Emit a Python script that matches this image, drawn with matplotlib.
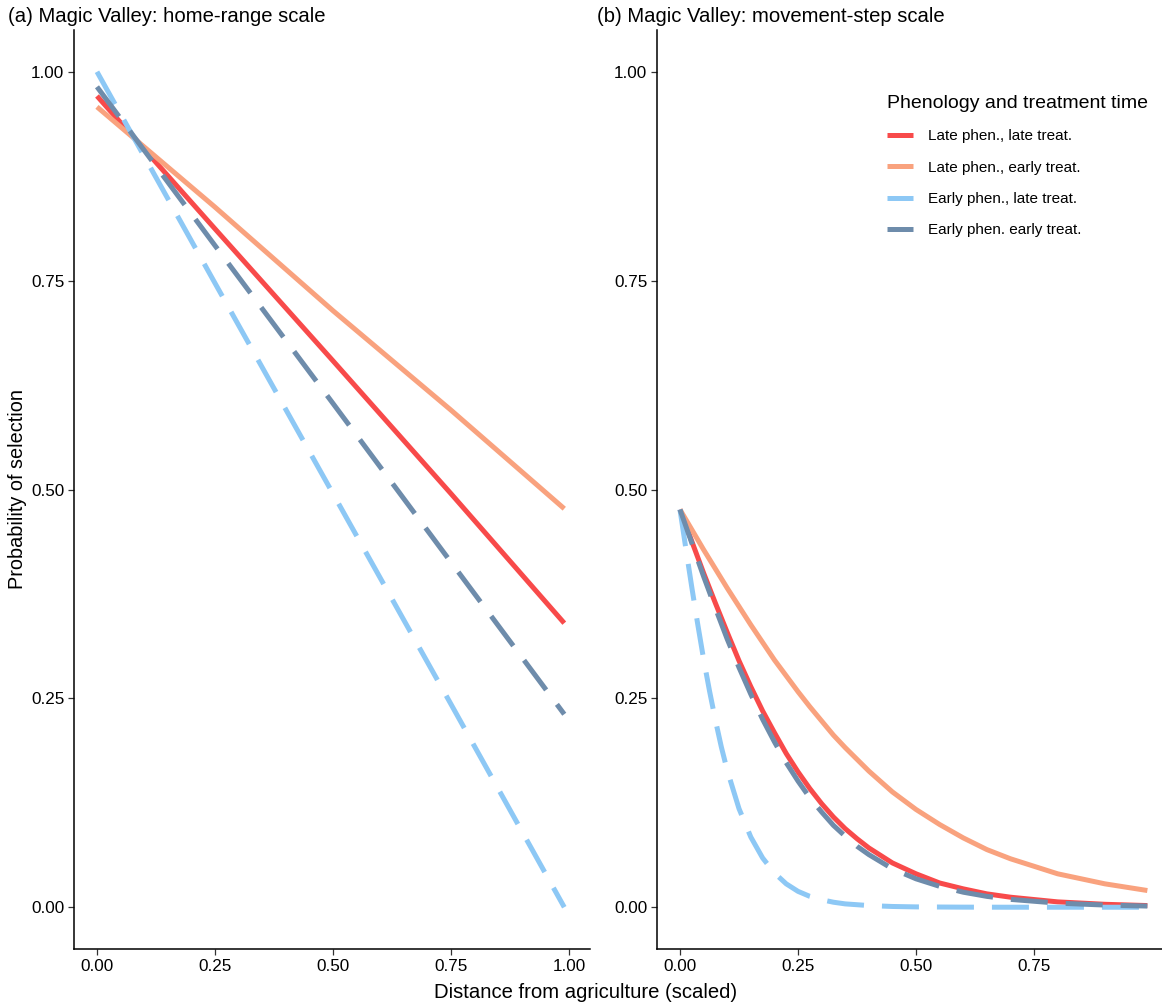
import numpy as np
import matplotlib.pyplot as plt
from matplotlib.lines import Line2D

plt.rcParams['font.family'] = ['Liberation Sans', 'DejaVu Sans']

# group labels and colours
groups = ['Late phen., late treat.', 'Late phen., early treat.',
          'Early phen., late treat.', 'Early phen. early treat.']
colors = ['#F84A4A', '#F9A27E', '#8DC8F5', '#6E8CAB']
dashed = [False, False, True, True]

# (a) home-range scale
hr_x = [0.0, 0.25, 0.5, 0.75, 0.99]
hr_late_late = [0.971, 0.812, 0.654, 0.495, 0.340]
hr_late_early = [0.958, 0.838, 0.714, 0.595, 0.477]
hr_early_late = [1.000, 0.747, 0.495, 0.243, 0.000]
hr_early_early = [0.982, 0.792, 0.603, 0.413, 0.231]

# (b) movement-step scale
ms_x = [0.0, 0.025, 0.05, 0.075, 0.1, 0.125, 0.15, 0.175, 0.2, 0.225, 0.25,
        0.275, 0.3, 0.325, 0.35, 0.375, 0.4, 0.45, 0.5, 0.55, 0.6, 0.65,
        0.7, 0.8, 0.9, 0.99]
ms_late_late = [0.476, 0.438, 0.400, 0.364, 0.329, 0.295, 0.264, 0.235,
                0.209, 0.184, 0.162, 0.142, 0.124, 0.108, 0.094, 0.082,
                0.071, 0.053, 0.040, 0.029, 0.022, 0.016, 0.012, 0.0064,
                0.0035, 0.0020]
ms_late_early = [0.476, 0.452, 0.428, 0.405, 0.382, 0.360, 0.338, 0.317,
                 0.296, 0.277, 0.258, 0.240, 0.223, 0.206, 0.191, 0.177,
                 0.163, 0.138, 0.117, 0.099, 0.083, 0.069, 0.058, 0.040,
                 0.028, 0.020]
ms_early_early = [0.476, 0.436, 0.396, 0.358, 0.321, 0.287, 0.255, 0.225,
                  0.198, 0.173, 0.151, 0.131, 0.114, 0.098, 0.085, 0.073,
                  0.063, 0.046, 0.034, 0.025, 0.018, 0.013, 0.0094, 0.0049,
                  0.0026, 0.0014]

# the early/late curve drops fast, so it is read at a finer spacing
ms_x_fast = [0.0, 0.0125, 0.025, 0.0375, 0.05, 0.0625, 0.075, 0.0875, 0.1,
             0.125, 0.15, 0.175, 0.2, 0.225, 0.25, 0.275, 0.3, 0.325, 0.35,
             0.375, 0.4, 0.45, 0.5, 0.6, 0.7, 0.8, 0.9, 0.99]
ms_early_late = [0.476, 0.429, 0.383, 0.339, 0.297, 0.259, 0.224, 0.192,
                 0.164, 0.118, 0.084, 0.059, 0.041, 0.028, 0.019, 0.013,
                 0.009, 0.006, 0.004, 0.003, 0.002, 0.0009, 0.0004, 0.0001,
                 0.0, 0.0, 0.0, 0.0]

hr_series = [(hr_x, hr_late_late), (hr_x, hr_late_early),
             (hr_x, hr_early_late), (hr_x, hr_early_early)]
ms_series = [(ms_x, ms_late_late), (ms_x, ms_late_early),
             (ms_x_fast, ms_early_late), (ms_x, ms_early_early)]

LW = 3.6
DASH = (7.4, 3.6)


def styleAxis(ax, xlim, xticks):
    ax.set_xlim(*xlim)
    ax.set_ylim(-0.05, 1.05)
    ax.set_xticks(xticks)
    ax.set_yticks([0.0, 0.25, 0.5, 0.75, 1.0])
    ax.xaxis.set_major_formatter(plt.FuncFormatter(lambda v, p: '{0:.2f}'.format(v)))
    ax.yaxis.set_major_formatter(plt.FuncFormatter(lambda v, p: '{0:.2f}'.format(v)))
    for side in ['top', 'right']:
        ax.spines[side].set_visible(False)
    for side in ['left', 'bottom']:
        ax.spines[side].set_linewidth(1.1)
        ax.spines[side].set_color('black')
    ax.tick_params(length=4, width=0.9, colors='#333333', labelsize=12.3,
                   labelcolor='black', pad=3)


def drawLines(ax, series):
    for (x, vals), col, dash in zip(series, colors, dashed):
        line, = ax.plot(x, vals, color=col, lw=LW, solid_capstyle='butt',
                        dash_capstyle='butt', solid_joinstyle='round')
        if dash:
            line.set_dashes(DASH)


fig = plt.figure(figsize=(11.62, 10.07), dpi=100)
ax1 = fig.add_axes([74 / 1162, 1 - 949 / 1007, 516 / 1162, 919 / 1007])
ax2 = fig.add_axes([657 / 1162, 1 - 949 / 1007, 505 / 1162, 919 / 1007])

drawLines(ax1, hr_series)
drawLines(ax2, ms_series)
styleAxis(ax1, (-0.0487, 1.0445), [0.0, 0.25, 0.5, 0.75, 1.0])
styleAxis(ax2, (-0.0487, 1.021), [0.0, 0.25, 0.5, 0.75])

fig.text(8 / 1162, 1 - 17 / 1007, '(a) Magic Valley: home-range scale',
         fontsize=14.6, va='center', ha='left')
fig.text(597 / 1162, 1 - 17 / 1007, '(b) Magic Valley: movement-step scale',
         fontsize=14.6, va='center', ha='left')
fig.text(586 / 1162, 1 - 993 / 1007, 'Distance from agriculture (scaled)',
         fontsize=14.6, ha='center', va='center')
fig.text(18 / 1162, 1 - 489 / 1007, 'Probability of selection',
         fontsize=14.3, rotation=90, ha='center', va='center')

handles = [Line2D([0], [0], color=c, lw=LW, solid_capstyle='butt') for c in colors]
leg = fig.legend(handles, groups, title='Phenology and treatment time',
                 loc='upper left', bbox_to_anchor=(873 / 1162, 1 - 81 / 1007),
                 frameon=False, fontsize=11, title_fontsize=14.0,
                 handlelength=1.7, handletextpad=1.0, labelspacing=1.14)
leg._legend_box.align = 'left'

plt.savefig('out.png', dpi=100)
